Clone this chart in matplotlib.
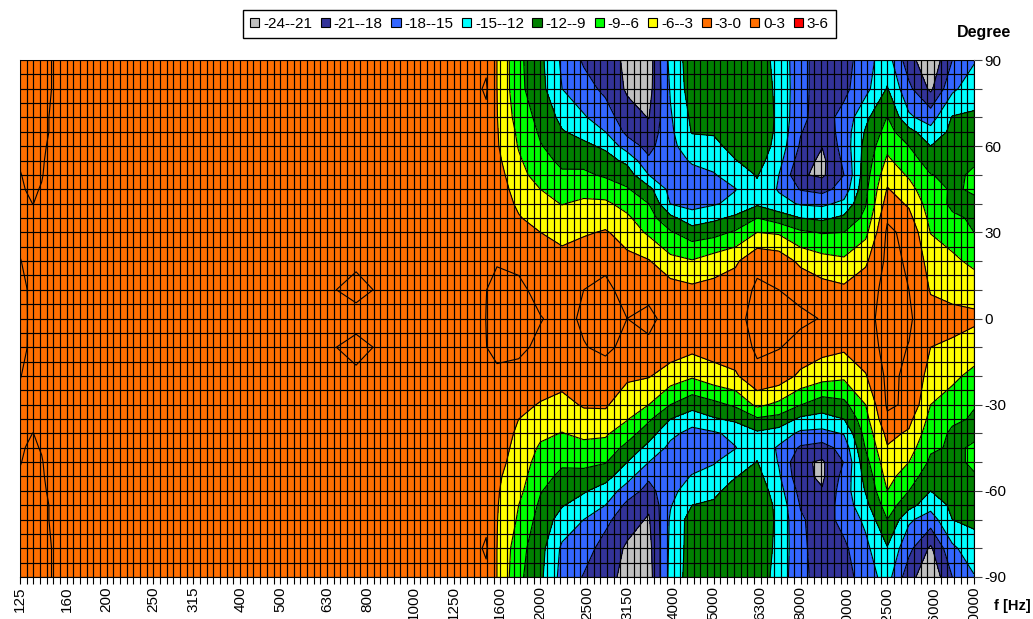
import numpy as np
import matplotlib
matplotlib.use("Agg")
import matplotlib.pyplot as plt
from matplotlib.patches import Patch

plt.rcParams["font.family"] = ["Liberation Sans", "DejaVu Sans"]

freq_labels = ["125", "160", "200", "250", "315", "400", "500", "630", "800", "1000", "1250", "1600",
               "2000", "2500", "3150", "4000", "5000", "6300", "8000", "10000", "12500", "16000", "20000"]

# rows of the level table, degrees
angles = [90, 80, 70, 65, 60, 55, 50, 45, 40, 35, 30, 20, 10, 0,
          -10, -20, -30, -35, -40, -45, -50, -55, -60, -65, -70, -80, -90]

# position of every measured column, in third-octave bands from 125 Hz
band_pos = [0, 0.15, 0.3, 0.5, 0.75, 1, 7, 7.25, 7.75, 8.3, 8.6, 10.5, 10.75,
            11, 11.5, 12, 12.5, 13, 13.5, 14, 14.5, 15, 15.5, 16, 16.5, 17, 17.5,
            18, 18.5, 19, 19.5, 20, 20.5, 21, 21.5, 22]

# level in dB, one line per column, from +90 to -90 degrees
level_columns = [
    [.3, .3, .3, .3, .2, .1, -.05, -.2, -.35, -.4, -.3, .05, .4, .4, .4, .05, -.3, -.4, -.35, -.2, -.05, .1, .2, .3, .3, .3, .3],
    [.3, .3, .3, .3, .3, .25, .15, .05, -.2, -.4, -.4, -.2, .03, .05, .03, -.2, -.4, -.4, -.2, .05, .15, .25, .3, .3, .3, .3, .3],
    [.3, .3, .3, .3, .3, .3, .2, .1, .02, -.4, -.4, -.4, -.3, -.3, -.3, -.4, -.4, -.4, .02, .1, .2, .3, .3, .3, .3, .3, .3],
    [.2, .2, .2, .2, .15, .1, .05, -.05, -.3, -.4, -.4, -.4, -.4, -.4, -.4, -.4, -.4, -.4, -.3, -.05, .05, .1, .15, .2, .2, .2, .2],
    [-.02, -.02, -.1, -.1, -.2, -.3, -.35, -.4, -.4, -.4, -.4, -.4, -.4, -.4, -.4, -.4, -.4, -.4, -.4, -.4, -.35, -.3, -.2, -.1, -.1, -.02, -.02],
    [-.5, -.5, -.5, -.5, -.5, -.5, -.5, -.5, -.5, -.5, -.5, -.5, -.5, -.5, -.5, -.5, -.5, -.5, -.5, -.5, -.5, -.5, -.5, -.5, -.5, -.5, -.5],
    [-.5, -.5, -.5, -.5, -.5, -.5, -.5, -.5, -.5, -.5, -.5, -.5, -.5, -.5, -.5, -.5, -.5, -.5, -.5, -.5, -.5, -.5, -.5, -.5, -.5, -.5, -.5],
    [-.5, -.5, -.5, -.5, -.5, -.5, -.5, -.5, -.5, -.5, -.5, -.5, -.05, -.5, -.05, -.5, -.5, -.5, -.5, -.5, -.5, -.5, -.5, -.5, -.5, -.5, -.5],
    [-.5, -.5, -.5, -.5, -.5, -.5, -.5, -.5, -.5, -.5, -.5, -.3, .5, -.6, .5, -.3, -.5, -.5, -.5, -.5, -.5, -.5, -.5, -.5, -.5, -.5, -.5],
    [-.5, -.5, -.5, -.5, -.5, -.5, -.5, -.5, -.5, -.5, -.5, -.5, -.2, -.5, -.2, -.5, -.5, -.5, -.5, -.5, -.5, -.5, -.5, -.5, -.5, -.5, -.5],
    [-.5, -.5, -.5, -.5, -.5, -.5, -.5, -.5, -.5, -.5, -.5, -.5, -.5, -.5, -.5, -.5, -.5, -.5, -.5, -.5, -.5, -.5, -.5, -.5, -.5, -.5, -.5],
    [-.5, -.5, -.5, -.5, -.5, -.5, -.5, -.5, -.5, -.5, -.5, -.5, -.5, -.5, -.5, -.5, -.5, -.5, -.5, -.5, -.5, -.5, -.5, -.5, -.5, -.5, -.5],
    [-.5, .3, -.5, -.7, -.8, -.8, -.8, -.8, -.7, -.7, -.6, -.3, -.02, .02, -.02, -.3, -.6, -.7, -.7, -.8, -.8, -.8, -.8, -.7, -.5, .3, -.5],
    [-3, -3, -2.9, -2.8, -2.7, -2.3, -1.8, -1.5, -1.3, -1, -.8, -.1, .4, .4, .4, -.3, -1, -1.2, -1.4, -1.7, -2, -2.5, -2.7, -2.8, -2.9, -3, -3],
    [-8.3, -8.2, -7.3, -6.6, -6.2, -5.6, -5, -4.2, -3.5, -2.8, -2.2, -.5, .5, .8, .4, -.6, -2.2, -3, -3.5, -3.9, -4.3, -4.7, -5.2, -6, -6.4, -7.8, -8.3],
    [-11.3, -11, -9.9, -9.4, -8.8, -8, -7.3, -6, -5.2, -4.1, -3, -1.6, -.7, .1, -.4, -1.4, -3.2, -4.4, -5.4, -6.4, -7.2, -8, -8.8, -9.5, -10.2, -11, -11.4],
    [-15.5, -15, -12.8, -11.8, -10.5, -9.6, -8.6, -7.2, -6.1, -5, -3.9, -2, -1, -.6, -1, -1.9, -3.9, -5, -6.1, -7.3, -8.6, -9.6, -10.7, -11.8, -13.2, -15.5, -16],
    [-18.4, -16.8, -14.7, -12.9, -11.4, -9.8, -8.5, -6.9, -5.5, -4.4, -3.4, -.8, 0, .3, -.1, -1, -2.7, -4, -5.3, -6.9, -8.3, -9.9, -11.7, -13.3, -15, -16.7, -18.2],
    [-19.6, -18.7, -16.5, -15, -12.5, -10.9, -9.4, -7.4, -5.5, -4.3, -2.7, -.4, .4, .8, .4, -.9, -2.6, -4, -5.6, -7, -8.8, -11, -13.2, -15, -17.2, -19.2, -20.3],
    [-21.6, -21.4, -19.8, -18.7, -16.5, -12.7, -10.5, -8.7, -7, -5.5, -4.3, -2.2, -.6, 0, -.5, -2.4, -5, -5.8, -7.6, -9.9, -12, -13.9, -16.4, -18.7, -19.8, -21.4, -21.6],
    [-22.6, -22.2, -21.1, -20, -18.9, -17.5, -15, -11.1, -9, -7.8, -6.5, -2.8, -.6, .5, -.4, -2.8, -6, -8.5, -10.7, -12.9, -15, -17.5, -19, -20.5, -21.3, -22, -22.4],
    [-14, -14.7, -15.3, -15.6, -15.8, -16.2, -16.4, -16, -15.1, -11.2, -8.7, -5.2, -1.6, -.8, -1.4, -4.4, -9, -12, -14.3, -15.7, -16.5, -16.6, -15.9, -15.2, -14.6, -14.3, -14],
    [-10.5, -10.5, -11.4, -11.8, -13.3, -14.7, -15.8, -16.3, -15.9, -13.8, -10.5, -5.8, -2.3, -1, -2.2, -5.6, -10.8, -13.8, -15.9, -16.3, -16.1, -14.8, -13.4, -12, -10.6, -10.6, -10.5],
    [-10, -10, -10.8, -11.7, -12.8, -14.1, -15.2, -15.8, -15.3, -12.6, -10, -4.5, -2, -.9, -1.7, -4.2, -9.8, -12.3, -15.4, -15.9, -15.2, -14, -12.6, -11.6, -10.4, -10.2, -10],
    [-10.2, -10.2, -10, -10.4, -10.9, -12.1, -13.6, -15.1, -14.2, -11.4, -8.6, -3.5, -1.3, -.7, -1.3, -3.4, -8.5, -11.4, -14.2, -15.1, -13.6, -12.1, -10.9, -10.2, -9.6, -9.8, -10],
    [-10.5, -10, -9.6, -9.7, -10, -10.8, -11.8, -12.6, -12.5, -9, -6, -.6, .4, .8, .4, -.6, -5.3, -9.4, -12.5, -12.9, -11.9, -11, -10, -9.5, -9.4, -9.6, -10],
    [-13, -12.8, -12.7, -12.8, -13.2, -14, -15, -15.3, -14, -10.5, -6.4, -1.2, 0, .5, .1, -1.2, -6.7, -10, -13.4, -15.4, -15.2, -14.6, -13.8, -13, -12.8, -13, -13.4],
    [-17, -17, -17.3, -17.8, -18.4, -19.5, -20.7, -18.2, -15.3, -12, -8.5, -3.7, -.6, .4, -.7, -3.7, -8.9, -12.6, -15.6, -18.4, -20.5, -20.2, -19, -18.2, -17.6, -17.2, -17],
    [-19.5, -19.5, -19.3, -20, -20.9, -21.7, -21.5, -19, -15.6, -12.6, -9.2, -4.9, -1.8, -.1, -2, -4.8, -10.6, -13, -15.9, -19.2, -21.4, -21.5, -20.8, -19.8, -19.4, -19.7, -19.5],
    [-19.5, -18.8, -17, -16.7, -16.8, -17.4, -18, -16.8, -14.3, -11.4, -9, -5.5, -2.4, -1, -2.5, -5.4, -9.8, -12, -14.8, -16.9, -17.9, -17, -16.5, -16.7, -17, -18.6, -19.3],
    [-16, -15.9, -12.7, -11.7, -11, -10.6, -10.2, -9.7, -9.2, -8.2, -6.8, -3.5, -1.2, -.8, -1.4, -3.2, -6, -7, -7.9, -8.8, -10, -11, -11.8, -12.9, -14.4, -15.7, -16.5],
    [-13.6, -11.8, -8.9, -7.9, -6.7, -5.5, -4.1, -2.8, -1.7, -.3, .5, .7, .8, 1, .9, .6, .4, -.5, -2.2, -3.2, -4.1, -5, -6, -7.5, -9, -12.2, -13.8],
    [-19.8, -17.3, -14.5, -11, -9, -7.7, -6.4, -4.9, -3.4, -2.2, -.7, -.3, 0, .4, -.1, -.5, -.4, -2.2, -3.4, -4.7, -6, -7.5, -9, -10.9, -14.5, -17.2, -19.8],
    [-23.5, -21.6, -16.3, -14, -12, -10.3, -8.9, -8.3, -7.5, -6.8, -6.1, -4.2, -3.2, -2, -3, -4.1, -6, -6.9, -7.7, -8.6, -9.5, -10.8, -12, -13.9, -16.5, -21.5, -23.5],
    [-18, -15.6, -11.8, -11.3, -10.8, -10.2, -9.6, -9.2, -9.5, -8.6, -7.7, -5.2, -3.6, -2.4, -3.3, -5.2, -7.6, -8.6, -9.4, -9.3, -9.6, -10.2, -10.8, -11.4, -12, -15.6, -18],
    [-15.3, -13.3, -11.6, -10.8, -10, -9.3, -8.6, -8.8, -9.3, -9.3, -9, -6.9, -3.8, -2.6, -4, -7, -8.9, -9.2, -9.3, -8.8, -8.6, -9.2, -10, -10.7, -11.4, -13.2, -15.2],
]

band_edges = [-24, -21, -18, -15, -12, -9, -6, -3, 0, 3, 6]
band_names = ["-24--21", "-21--18", "-18--15", "-15--12", "-12--9", "-9--6", "-6--3", "-3-0", "0-3", "3-6"]
band_colors = ["#C0C0C0", "#333399", "#3366FF", "#00FFFF", "#008000", "#00FF00", "#FFFF00", "#FF6F00", "#FF6F00", "#FF0000"]

level_db = np.array(level_columns).T

fig = plt.figure(figsize=(10.33, 6.19), dpi=100)
ax = fig.add_axes([20 / 1033, 1 - 577 / 619, 954 / 1033, 517 / 619])

ax.contourf(band_pos, angles, level_db, levels=band_edges, colors=band_colors)
ax.contour(band_pos, angles, level_db, levels=band_edges[1:-1], colors="black", linewidths=0.8, linestyles="solid")

# 143 cells along x, a label every 6.5 cells like the spreadsheet did
cell_pos = np.arange(144) * 22 / 143
label_idx = [int(np.ceil(i * 6.5)) for i in range(len(freq_labels))]
tick_text = [""] * 144
for i, name in zip(label_idx, freq_labels):
    tick_text[i] = name

ax.set_xlim(0, 22)
ax.set_ylim(-90, 90)
ax.set_xticks(cell_pos, labels=tick_text, rotation=90, fontsize=11)
ax.tick_params(axis="x", length=5, width=0.8, pad=1.5)
for lab in ax.get_xticklabels():
    lab.set_verticalalignment("top")

ax.yaxis.tick_right()
ax.set_yticks(np.arange(-90, 91, 10))
ax.set_yticklabels([str(v) if v % 30 == 0 else "" for v in np.arange(-90, 91, 10)], fontsize=11)
ax.set_yticks(np.arange(-85, 90, 10), minor=True)
ax.tick_params(axis="y", which="major", length=6, width=0.8, pad=1.5, color="#404040")
ax.tick_params(axis="y", which="minor", length=0)

ax.set_axisbelow(False)
ax.grid(True, which="both", color="black", linewidth=0.85)
for side in ax.spines.values():
    side.set_color("#B0B0B0")
    side.set_linewidth(0.8)
ax.spines["right"].set_color("black")
ax.spines["bottom"].set_color("black")

handles = [Patch(facecolor=c, edgecolor="black", linewidth=0.8) for c in band_colors]
fig.legend(handles, band_names, ncol=10, loc="center", bbox_to_anchor=(539.5 / 1033, 1 - 24 / 619),
           fontsize=11, frameon=True, fancybox=False, edgecolor="black", framealpha=1,
           handlelength=0.6, handleheight=0.6, handletextpad=0.25, columnspacing=0.56, borderpad=0.45, borderaxespad=0)

fig.text(1011 / 1033, 1 - 32 / 619, "Degree", ha="right", va="center", fontsize=11.5, fontweight="bold")
fig.text(1031 / 1033, 1 - 606 / 619, "f [Hz]", ha="right", va="center", fontsize=10.5, fontweight="bold")

fig.savefig("out.png", dpi=100)
